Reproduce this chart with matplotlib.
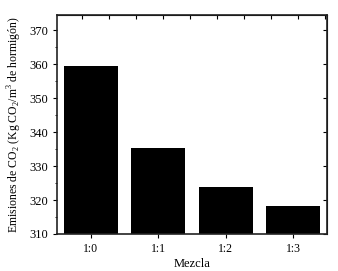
import matplotlib.pyplot as plt
import numpy as np

plt.rcParams['font.family'] = ['Liberation Serif', 'DejaVu Serif']
plt.rcParams['mathtext.fontset'] = 'custom'
plt.rcParams['mathtext.rm'] = 'Liberation Serif'

mezclas = ['1:0', '1:1', '1:2', '1:3']
emisiones = [359.5, 335.4, 323.8, 318.2]


def draw():
    fig = plt.figure(figsize=(3.38, 2.71), dpi=100)
    ax = fig.add_axes([57 / 338, 37 / 271, 270 / 338, 219 / 271])
    x = np.arange(len(mezclas))
    ax.bar(x, emisiones, 0.8, color='black')
    ax.set_xlim(-0.5, 3.5)
    ax.set_ylim(310, 374.5)
    ax.set_xticks(x)
    ax.set_xticklabels(mezclas, fontsize=8.5)
    ax.set_yticks(np.arange(310, 371, 10))
    ax.set_yticks(np.arange(315, 375, 10), minor=True)
    ax.tick_params(axis='y', labelsize=9, direction='out', length=3, width=0.8)
    ax.tick_params(axis='y', which='minor', direction='out', length=1.5)
    ax.tick_params(axis='x', direction='out', length=3, width=0.8)
    ax.set_xlabel('Mezcla', fontsize=9, labelpad=2)
    ax.set_ylabel('Emisiones de CO$_2$ (Kg CO$_2$/m$^3$ de hormigón)', fontsize=8.5)
    for s in ax.spines.values():
        s.set_linewidth(1.2)
        s.set_color('#222222')
    # ticks arriba y a la derecha
    top = ax.secondary_xaxis('top')
    top.set_xticks(-0.125 + 0.4 * np.arange(10))
    top.set_xticklabels([])
    top.tick_params(direction='in', length=3, width=0.8)
    right = ax.secondary_yaxis('right')
    right.set_yticks(np.arange(310, 371, 10))
    right.set_yticklabels([])
    right.tick_params(direction='in', length=3, width=0.8)
    fig.savefig('out.png')


if __name__ == '__main__':
    draw()
